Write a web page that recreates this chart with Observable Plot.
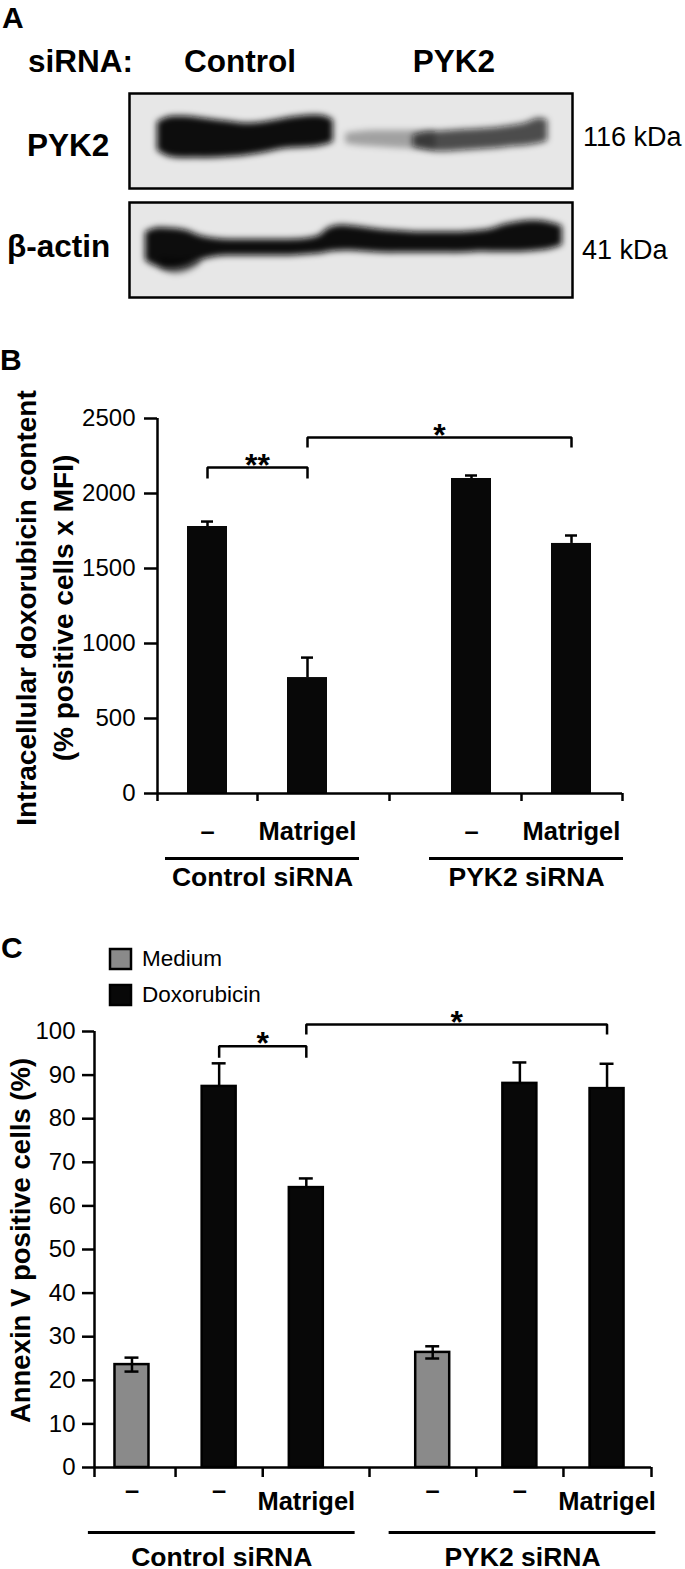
<!DOCTYPE html>
<html>
<head>
<meta charset="utf-8">
<script src="https://cdn.jsdelivr.net/npm/d3@7"></script>
<script src="https://cdn.jsdelivr.net/npm/@observablehq/plot@0.6"></script>
<style>
  html, body { margin: 0; padding: 0; background: #fff; }
  #fig { position: relative; width: 685px; height: 1569px; overflow: hidden;
         font-family: "Liberation Sans", Arial, Helvetica, sans-serif; color: #000; }
  .lbl { position: absolute; white-space: nowrap; line-height: 1; }
  #fig > svg { position: absolute; left: 0; overflow: visible; }
  .lg { position: absolute; width: 260px; font-family: "Liberation Sans", Arial, sans-serif !important; font-size: 22.5px !important; }
  .lg, .lg * { overflow: visible !important; text-overflow: clip !important; }
  .lg-swatch { margin: 0 0 12px 0 !important; padding: 0 !important; line-height: 24px; }
  .lg-swatch svg { position: static !important; margin-right: 11px !important; }
  .lg-swatch svg rect { stroke: #000; stroke-width: 2.5px; }
</style>
</head>
<body>
<div id="fig"></div>
<script>
const FONT = '"Liberation Sans", Arial, Helvetica, sans-serif';

// ---------------- Panel A : western blot ----------------
const blotHeader = ["Control", "PYK2"];
const blotRows = ["PYK2", "β-actin"];
const blotSizes = ["116 kDa", "41 kDa"];

// band profiles: position along membrane (% of width), top / bottom edge (% of strip height)
const pyk2CtrlX   = [6.3, 8.6, 11.5, 14.9, 18.3, 21.7, 25.1, 28.4, 31.8, 35.2, 38.6, 42.0, 44.2, 46.0];
const pyk2CtrlTop = [30, 25, 24, 25, 27, 29, 31, 31, 29, 26, 24, 23, 24, 28];
const pyk2CtrlBot = [60, 66, 68, 68, 68, 67, 66, 64, 61, 58, 57, 56, 54, 51];

const pyk2KdFaintX   = [48.8, 52.1, 55.5, 58.9, 62.3, 65.7, 69.1];
const pyk2KdFaintTop = [42, 40, 39, 39, 39, 39, 39];
const pyk2KdFaintBot = [53, 55, 56, 57, 58, 59, 60];

const pyk2KdX   = [64.0, 66.5, 69.1, 72.5, 75.8, 79.2, 82.6, 86.0, 89.4, 92.3, 94.4];
const pyk2KdTop = [44, 41, 40, 39, 38, 37, 36, 34, 31, 26, 28];
const pyk2KdBot = [56, 59, 61, 61, 60, 59, 58, 56, 55, 53, 50];

const actinX   = [3.6, 5.9, 9.3, 12.6, 16.0, 19.4, 22.8, 26.2, 29.6, 33.0, 36.3, 39.7, 42.7, 44.9, 47.6, 51.0, 54.4, 57.8, 61.2, 64.6, 68.0, 71.3, 74.7, 78.1, 81.5, 84.9, 88.3, 91.6, 95.0, 97.7];
const actinTop = [31, 27, 27, 29, 35, 38, 39, 39, 39, 39, 39, 38, 35, 27, 24, 25, 27, 29, 30, 31, 31, 31, 31, 30, 28, 23, 20, 19, 21, 25];
const actinBot = [61, 67, 70, 68, 61, 57, 56, 56, 56, 56, 56, 55, 54, 52, 51, 51, 52, 53, 53, 53, 53, 53, 53, 52, 52, 52, 52, 51, 49, 45];

const actinSmearX   = [7, 10, 13, 16];
const actinSmearTop = [58, 60, 60, 58];
const actinSmearBot = [70, 75, 73, 65];

// ---------------- Panel B ----------------
const bGroups     = ["Control siRNA", "Control siRNA", "PYK2 siRNA", "PYK2 siRNA"];
const bConditions = ["–", "Matrigel", "–", "Matrigel"];
const bValues     = [1780, 773, 2100, 1667];
const bErrors     = [33, 133, 20, 53];
const bYTicks     = [0, 500, 1000, 1500, 2000, 2500];
const bSignif     = [
  {from: 0, to: 1, label: "**", y: 2173, leg: 2100},
  {from: 1, to: 3, label: "*",  y: 2373, leg: 2307}
];
const bTitle = "Intracellular doxorubicin content\n(% positive cells x MFI)";

// ---------------- Panel C ----------------
const cGroups     = ["Control siRNA", "Control siRNA", "Control siRNA", "PYK2 siRNA", "PYK2 siRNA", "PYK2 siRNA"];
const cConditions = ["–", "–", "Matrigel", "–", "–", "Matrigel"];
const cTreatments = ["Medium", "Doxorubicin", "Doxorubicin", "Medium", "Doxorubicin", "Doxorubicin"];
const cValues     = [23.6, 87.4, 64.2, 26.4, 88.1, 86.9];
const cErrors     = [1.6, 5.3, 2.1, 1.4, 4.8, 5.7];
const cYTicks     = [0, 10, 20, 30, 40, 50, 60, 70, 80, 90, 100];
const cSignif     = [
  {from: 1, to: 2, label: "*", y: 96.6,  leg: 94.0},
  {from: 2, to: 5, label: "*", y: 101.6, leg: 99.3}
];
const cLegendKeys   = ["Medium", "Doxorubicin"];
const cLegendColors = ["#8a8a8a", "#080808"];
const cTitle = "Annexin V positive cells (%)";

const fig = document.getElementById("fig");

function label(text, x, baseline, size, weight, anchor) {
  const d = document.createElement("div");
  d.className = "lbl";
  d.textContent = text;
  d.style.fontSize = size + "px";
  d.style.fontWeight = weight;
  d.style.top = (baseline - 0.8465 * size) + "px";
  d.style.left = x + "px";
  if (anchor === "middle") d.style.transform = "translateX(-50%)";
  fig.appendChild(d);
}

function place(svg, top) {
  svg.style.top = top + "px";
  fig.appendChild(svg);
  return svg;
}

function band(xs, tops, bots) {
  return xs.map((x, i) => ({x, top: tops[i], bottom: bots[i]}));
}

let blurId = 0;
function blot(top, bands) {
  const svg = Plot.plot({
    width: 685, height: 101,
    marginTop: 3, marginBottom: 3, marginLeft: 129, marginRight: 113,
    x: {domain: [0, 100], axis: null},
    y: {domain: [0, 100], reverse: true, axis: null},
    style: {background: "transparent", overflow: "visible"},
    marks: [
      Plot.frame({fill: "#e7e7e7"}),
      ...bands.map(b => Plot.area(b.data, {x1: "x", y1: "top", y2: "bottom", fill: "#0a0a0a", fillOpacity: b.opacity, curve: "catmull-rom"})),
      Plot.frame({stroke: "#000", strokeWidth: 2.5})
    ]
  });
  const id = "blur" + (blurId++);
  const defs = d3.select(svg).insert("defs", ":first-child");
  defs.append("filter").attr("id", id)
    .attr("x", "-20%").attr("y", "-60%").attr("width", "140%").attr("height", "220%")
    .append("feGaussianBlur").attr("stdDeviation", 3.2);
  d3.select(svg).selectAll('g[aria-label="area"]').attr("filter", `url(#${id})`);
  return place(svg, top);
}

// ---- Panel A rendering
label("A", 2, 28, 30, "bold");
label("siRNA:", 28, 73, 31.5, "bold");
label(blotHeader[0], 240, 73, 31.5, "bold", "middle");
label(blotHeader[1], 454, 73, 31.5, "bold", "middle");
label(blotRows[0], 27, 157, 31.5, "bold");
label(blotRows[1], 7, 258, 31.5, "bold");
label(blotSizes[0], 583, 147, 27, "normal");
label(blotSizes[1], 582, 260, 27, "normal");

blot(90, [
  {data: band(pyk2CtrlX, pyk2CtrlTop, pyk2CtrlBot), opacity: 1},
  {data: band(pyk2KdFaintX, pyk2KdFaintTop, pyk2KdFaintBot), opacity: 0.3},
  {data: band(pyk2KdX, pyk2KdTop, pyk2KdBot), opacity: 0.72}
]);
blot(199, [
  {data: band(actinX, actinTop, actinBot), opacity: 1},
  {data: band(actinSmearX, actinSmearTop, actinSmearBot), opacity: 0.5}
]);

// ---- Bar chart helper
function positions(groups, gap) {
  const names = [...new Set(groups)];
  const seen = {};
  return groups.map(g => {
    seen[g] = (seen[g] ?? -1) + 1;
    return names.indexOf(g) * gap + seen[g];
  });
}
function boundaries(pos, groups, domain) {
  const t = [domain[0]];
  for (let i = 1; i < pos.length; i++) {
    t.push(groups[i] === groups[i - 1] ? pos[i - 1] + 0.5 : (pos[i - 1] + pos[i]) / 2);
  }
  t.push(domain[1]);
  return t;
}

function barChart(cfg) {
  const pos = positions(cfg.groups, cfg.gap);
  const rows = cfg.values.map((v, i) => ({
    pos: pos[i], value: v, err: cfg.errors[i], cond: cfg.conditions[i],
    treat: cfg.treatments[i], two: cfg.treatments[i] === "Medium"
  }));
  const names = [...new Set(cfg.groups)];
  const spans = names.map(n => {
    const p = pos.filter((_, i) => cfg.groups[i] === n);
    const x1 = d3.min(p) - cfg.lineExt[0], x2 = d3.max(p) + cfg.lineExt[1];
    return {name: n, x1, x2, mid: (x1 + x2) / 2};
  });
  const brackets = cfg.signif.flatMap((s, k) => [
    {k, x: pos[s.from], y: s.leg}, {k, x: pos[s.from], y: s.y},
    {k, x: pos[s.to], y: s.y}, {k, x: pos[s.to], y: s.leg}
  ]);
  const half = cfg.barWidth / 2, cap = cfg.cap;
  const ticksX = boundaries(pos, cfg.groups, cfg.xDomain);
  const textBase = {frameAnchor: "bottom", fontWeight: "bold", lineAnchor: "middle", fontSize: cfg.catSize};

  const svg = Plot.plot({
    width: 685, height: cfg.height,
    marginTop: cfg.marginTop, marginBottom: cfg.marginBottom,
    marginLeft: cfg.marginLeft, marginRight: cfg.marginRight,
    x: {domain: cfg.xDomain, axis: null},
    y: {domain: cfg.yDomain, axis: null},
    color: {domain: cLegendKeys, range: cLegendColors},
    style: {fontFamily: FONT, fontSize: "24px", color: "#000", background: "transparent", overflow: "visible"},
    marks: [
      Plot.axisY({ticks: cfg.yTicks, tickSize: cfg.tickSize, tickPadding: cfg.tickPadding,
                  tickFormat: d => String(d), fontSize: 24, strokeWidth: 2.5, label: null}),
      Plot.axisX({ticks: ticksX, tickSize: cfg.xTickSize, tickFormat: () => "", strokeWidth: 2.5, label: null}),
      Plot.rect(rows, {x1: d => d.pos - half, x2: d => d.pos + half, y1: () => 0, y2: "value",
                       fill: "treat", stroke: cfg.barStroke ? "#000" : "none", strokeWidth: 2.5}),
      Plot.ruleX(rows, {x: "pos", y1: d => d.two ? d.value - d.err : d.value, y2: d => d.value + d.err, strokeWidth: 2.5}),
      Plot.ruleY(rows, {y: d => d.value + d.err, x1: d => d.pos - cap, x2: d => d.pos + cap, strokeWidth: 2.5}),
      Plot.ruleY(rows.filter(d => d.two), {y: d => d.value - d.err, x1: d => d.pos - cap, x2: d => d.pos + cap, strokeWidth: 2.5}),
      Plot.ruleY([0], {strokeWidth: 2.5}),
      Plot.ruleX([cfg.xDomain[0]], {strokeWidth: 2.5}),
      Plot.line(brackets, {x: "x", y: "y", z: "k", strokeWidth: 2.5, strokeLinejoin: "miter", strokeLinecap: "butt"}),
      Plot.text(cfg.signif, {x: s => (pos[s.from] + pos[s.to]) / 2, y: "y", text: "label",
                             lineAnchor: "bottom", dy: 8, fontSize: 32, fontWeight: "bold"}),
      Plot.text(rows.filter(d => d.cond === "–"), {...textBase, x: "pos", text: "cond", dy: cfg.dashDy}),
      Plot.text(rows.filter(d => d.cond !== "–"), {...textBase, x: "pos", text: "cond", dy: cfg.condDy}),
      Plot.ruleY(spans, {x1: "x1", x2: "x2", y: () => cfg.yDomain[0], dy: cfg.lineDy, strokeWidth: 3}),
      Plot.text(spans, {...textBase, x: "mid", text: "name", dy: cfg.groupDy, fontSize: cfg.groupSize}),
      Plot.text([cfg.title], {text: d => d, frameAnchor: "left", rotate: -90, textAnchor: "middle",
                              lineAnchor: "top", dx: cfg.titleDx, dy: cfg.titleDy, fontSize: cfg.titleSize,
                              fontWeight: "bold", lineHeight: 1.32})
    ]
  });
  return place(svg, cfg.top);
}

// ---- Panel B
label("B", 0, 370, 30, "bold");
barChart({
  top: 330, height: 580, marginTop: 88, marginBottom: 117, marginLeft: 157, marginRight: 63,
  groups: bGroups, conditions: bConditions, values: bValues, errors: bErrors,
  treatments: bValues.map(() => "Doxorubicin"),
  gap: 2.64, xDomain: [-0.5, 4.15], yDomain: [0, 2500], yTicks: bYTicks,
  barWidth: 0.4, cap: 0.06, barStroke: false,
  tickSize: 13, tickPadding: 9, xTickSize: 8,
  signif: bSignif, lineExt: [0.42, 0.52],
  catSize: 25.5, groupSize: 26.5,
  dashDy: 38.5, condDy: 38.5, lineDy: 65, groupDy: 84.5,
  title: bTitle, titleDx: -148, titleDy: 2, titleSize: 28
});

// ---- Panel C
label("C", 1, 958, 30, "bold");
const lg = Plot.legend({
  color: {domain: cLegendKeys, range: cLegendColors},
  swatchWidth: 21, swatchHeight: 20, columns: 1, className: "lg",
  style: {fontFamily: FONT, fontSize: "22.5px", color: "#000"}
});
lg.style.position = "absolute";
lg.style.left = "110px";
lg.style.top = "947px";
lg.style.margin = "0";
fig.appendChild(lg);

barChart({
  top: 1005, height: 564, marginTop: 26, marginBottom: 102, marginLeft: 94, marginRight: 34,
  groups: cGroups, conditions: cConditions, values: cValues, errors: cErrors,
  treatments: cTreatments,
  gap: 3.45, xDomain: [-0.43, 5.96], yDomain: [0, 100], yTicks: cYTicks,
  barWidth: 0.39, cap: 0.08, barStroke: true,
  tickSize: 12, tickPadding: 7, xTickSize: 10,
  signif: cSignif, lineExt: [0.5, 0.56],
  catSize: 25.5, groupSize: 26.5,
  dashDy: 23, condDy: 34, lineDy: 65, groupDy: 90.5,
  title: cTitle, titleDx: -90, titleDy: -9, titleSize: 27.5
});
</script>
</body>
</html>
